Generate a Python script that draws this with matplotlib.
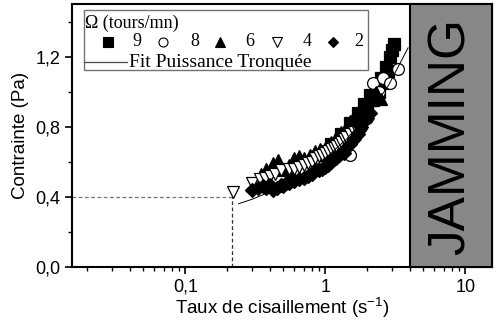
import numpy as np
import matplotlib
matplotlib.use("Agg")
import matplotlib.pyplot as plt
from matplotlib.patches import Rectangle
from matplotlib.ticker import FixedLocator, FixedFormatter, LogLocator, NullFormatter

# ---- data ----
# shear rate (s^-1) / stress (Pa) for each rotation speed (tours/mn)
x9 = [1.0, 1.1, 1.2, 1.3, 1.4, 1.5, 1.6, 1.7, 1.8, 1.9, 2.0, 2.1, 2.2, 2.3, 2.4,
      2.5, 2.6, 2.7, 2.8, 2.9, 3.0, 3.1]
y9 = [0.64, 0.70, 0.70, 0.76, 0.76, 0.82, 0.80, 0.88, 0.86, 0.93, 0.90, 0.98, 0.95,
      1.03, 1.00, 1.08, 1.05, 1.14, 1.12, 1.20, 1.24, 1.27]

x8 = [1.5, 1.8, 2.0, 2.2, 2.4, 2.6, 2.9, 3.3]
y8 = [0.64, 0.80, 0.85, 1.05, 1.00, 1.08, 1.05, 1.13]

x6 = [0.35, 0.38, 0.42, 0.46, 0.5, 0.55, 0.6, 0.65, 0.7, 0.78, 0.85, 0.92, 1.0, 1.1,
      1.2, 1.3, 1.4, 1.5, 1.6, 1.7, 1.8, 1.9, 2.0, 2.1, 2.2, 2.3, 2.5]
y6 = [0.53, 0.56, 0.59, 0.61, 0.55, 0.58, 0.62, 0.63, 0.62, 0.64, 0.66, 0.67, 0.68,
      0.71, 0.74, 0.77, 0.80, 0.83, 0.86, 0.88, 0.91, 0.93, 0.93, 0.95, 0.98, 1.00, 0.96]

x4 = [0.22, 0.3, 0.34, 0.37, 0.4, 0.44, 0.48, 0.55, 0.6, 0.65, 0.7, 0.75, 0.8, 0.85,
      0.9, 0.95, 1.0, 1.05, 1.1, 1.15, 1.2, 1.25, 1.3, 1.35, 1.4, 1.5, 1.6, 1.7]
y4 = [0.43, 0.48, 0.50, 0.51, 0.52, 0.53, 0.55, 0.56, 0.56, 0.57, 0.58, 0.59, 0.60,
      0.62, 0.63, 0.64, 0.65, 0.66, 0.67, 0.68, 0.69, 0.70, 0.71, 0.73, 0.74, 0.76,
      0.77, 0.77]

x2 = [0.3, 0.33, 0.36, 0.38, 0.4, 0.42, 0.45, 0.48, 0.5, 0.52, 0.55, 0.58, 0.6, 0.65,
      0.7, 0.75, 0.8, 0.85, 0.9, 0.95, 1.0, 1.05, 1.1, 1.15, 1.2, 1.25, 1.35, 1.4,
      1.5, 1.6, 1.7, 1.8, 1.9, 2.0, 2.1]
y2 = [0.44, 0.45, 0.46, 0.45, 0.47, 0.44, 0.45, 0.47, 0.46, 0.48, 0.48, 0.50, 0.49,
      0.50, 0.51, 0.52, 0.53, 0.55, 0.55, 0.56, 0.57, 0.58, 0.60, 0.62, 0.62, 0.64,
      0.65, 0.68, 0.70, 0.73, 0.76, 0.80, 0.83, 0.85, 0.88]

# truncated power-law fit
fit_x = [0.24, 0.3, 0.4, 0.5, 0.7, 1.0, 1.4, 2.0, 2.8, 3.9]
fit_y = [0.36, 0.386, 0.427, 0.464, 0.531, 0.62, 0.725, 0.865, 1.03, 1.25]

# yield point marked by the dashed guide
yield_x = 0.217
yield_y = 0.4

jam_start = 4.05   # start of the jamming region (s^-1)

series = [
    ("9", x9, y9, "s", "k"),
    ("8", x8, y8, "o", "w"),
    ("6", x6, y6, "^", "k"),
    ("4", x4, y4, "v", "w"),
    ("2", x2, y2, "D", "k"),
]

SANS = ["Liberation Sans", "DejaVu Sans"]
SERIF = ["Liberation Serif", "DejaVu Serif"]
plt.rcParams["font.family"] = SANS

XMIN, XMAX = 0.0155, 15.5
YMIN, YMAX = 0.0, 1.5

fig = plt.figure(figsize=(4.96, 3.2), dpi=100)
ax = fig.add_axes([0.145, 0.166, 0.847, 0.8215])
ax.set_xscale("log")
ax.set_xlim(XMIN, XMAX)
ax.set_ylim(YMIN, YMAX)

# jamming region
ax.add_patch(Rectangle((jam_start, YMIN), XMAX - jam_start, YMAX - YMIN,
                       facecolor="#878787", edgecolor="k", lw=1.5, zorder=5,
                       clip_on=False))
ax.text(np.sqrt(jam_start * XMAX), 0.745, "JAMMING", rotation=90,
        ha="center", va="center", fontsize=37, color="k", zorder=6)

# dashed guides to the yield point
ax.plot([XMIN, yield_x], [yield_y, yield_y], ls=(0, (3, 2)), color="0.45", lw=0.9)
ax.plot([yield_x, yield_x], [YMIN, yield_y], ls=(0, (3, 2)), color="0.2", lw=0.9)

# data
for lab, xs, ys, mk, fc in series:
    ax.plot(xs, ys, ls="none", marker=mk, ms=8.5 if mk != "D" else 7.5,
            mfc=fc, mec="k", mew=0.9, zorder=3)

ax.plot(fit_x, fit_y, color="k", lw=0.7, zorder=4)

# ticks
ax.yaxis.set_major_locator(FixedLocator([0.0, 0.4, 0.8, 1.2]))
ax.yaxis.set_major_formatter(FixedFormatter(["0,0", "0,4", "0,8", "1,2"]))
ax.yaxis.set_minor_locator(FixedLocator([0.2, 0.6, 1.0, 1.4]))
ax.xaxis.set_major_locator(FixedLocator([0.1, 1, 10]))
ax.xaxis.set_major_formatter(FixedFormatter(["0,1", "1", "10"]))
ax.xaxis.set_minor_locator(LogLocator(base=10, subs=np.arange(2, 10)))
ax.xaxis.set_minor_formatter(NullFormatter())
ax.tick_params(which="major", direction="out", length=5, width=1.2, labelsize=13)
ax.tick_params(which="minor", direction="out", length=3, width=1.0)
for s in ax.spines.values():
    s.set_linewidth(1.5)

ax.set_xlabel("Taux de cisaillement (s$^{\\mathregular{-1}}$)", fontsize=13.5, labelpad=0)
ax.set_ylabel("Contrainte (Pa)", fontsize=13.5, labelpad=4)

# hand-built legend (axes fraction coordinates)
T = ax.transAxes
ax.add_patch(Rectangle((0.0286, 0.749), 0.676, 0.228, transform=T,
                       facecolor="w", edgecolor="0.45", lw=1.0, zorder=7))
ax.text(0.032, 0.925, "\u03a9 (tours/mn)", transform=T, ha="left", va="center",
        fontsize=13, family=SERIF, zorder=8)
key_x = [0.086, 0.217, 0.352, 0.488, 0.621]
lab_x = [0.155, 0.293, 0.424, 0.560, 0.693]
for (lab, xs, ys, mk, fc), kx, lx in zip(series, key_x, lab_x):
    ax.plot([kx], [0.856], transform=T, ls="none", marker=mk,
            ms=6.5 if mk != "D" else 5.5, mfc=fc, mec="k", mew=0.8, zorder=8)
    ax.text(lx, 0.856, lab, transform=T, ha="right" if lab == "2" else "center",
            va="center", fontsize=13, family=SERIF, zorder=8)
ax.plot([0.0286, 0.131], [0.779, 0.779], transform=T, color="0.3", lw=0.9, zorder=8)
ax.text(0.136, 0.779, "Fit Puissance Tronqu\u00e9e", transform=T, ha="left",
        va="center", fontsize=14, family=SERIF, zorder=8)

fig.savefig("out.png", dpi=100)
